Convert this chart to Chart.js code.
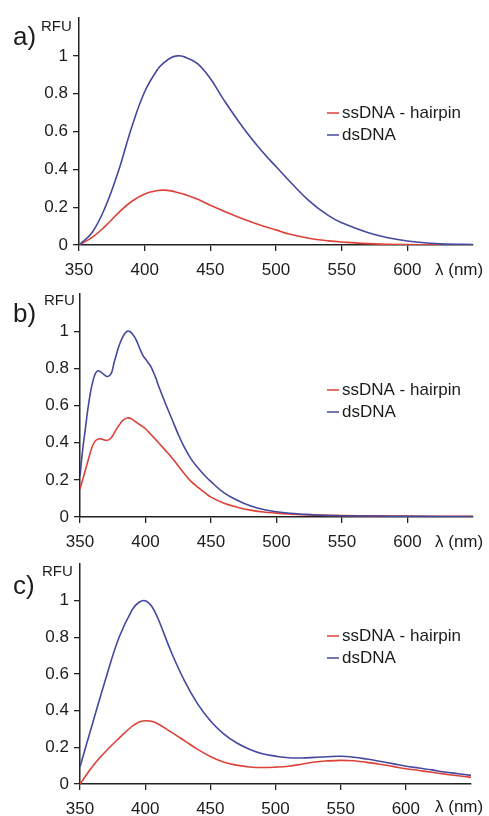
<!DOCTYPE html>
<html>
<head>
<meta charset="utf-8">
<script src="https://cdn.jsdelivr.net/npm/chart.js@4.4.1/dist/chart.umd.min.js"></script>
<style>
  body { margin: 0; background: #fff; overflow: hidden; }
  .page { position: relative; width: 489px; height: 816px; overflow: hidden; }
  canvas { position: absolute; left: 0; }
</style>
</head>
<body>
<div class="page">
  <canvas id="chartA" width="489" height="280" style="top:0px;z-index:3"></canvas>
  <canvas id="chartB" width="489" height="280" style="top:272px;z-index:2"></canvas>
  <canvas id="chartC" width="489" height="280" style="top:544px;z-index:1"></canvas>
</div>
<script>
// values (RFU vs wavelength in nm)
const seriesLabels = ['ssDNA - hairpin', 'dsDNA'];
const xTicks = [350, 400, 450, 500, 550, 600];
const yTicks = [0, 0.2, 0.4, 0.6, 0.8, 1];

// panel a
const wavelengthsA = [350, 360, 370, 380, 390, 400, 410, 415, 420, 425, 430, 440, 450, 460, 475, 490, 500, 510, 525, 540, 550, 575, 600, 625, 650];
const ssdnaA = [0, 0.04, 0.10, 0.17, 0.23, 0.27, 0.288, 0.29, 0.286, 0.278, 0.268, 0.243, 0.21, 0.18, 0.137, 0.10, 0.08, 0.058, 0.036, 0.022, 0.016, 0.006, 0.002, 0.001, 0];
const dsdnaA = [0, 0.066, 0.20, 0.39, 0.62, 0.81, 0.93, 0.965, 0.99, 1.0, 0.995, 0.96, 0.88, 0.77, 0.62, 0.49, 0.415, 0.34, 0.235, 0.155, 0.118, 0.055, 0.021, 0.006, 0.003];

// panel b
const wavelengthsB = [350, 352, 354, 356, 358, 360, 362, 364, 366, 368, 370, 372, 374, 376, 378, 380, 382, 384, 386, 388, 390, 392, 394, 396, 398, 400, 402, 404, 406, 408, 410, 415, 420, 425, 430, 435, 440, 445, 450, 460, 470, 480, 490, 500, 510, 520, 530, 550, 575, 600, 625, 650];
const ssdnaB = [0.15, 0.20, 0.25, 0.30, 0.35, 0.39, 0.412, 0.42, 0.42, 0.416, 0.413, 0.415, 0.428, 0.45, 0.475, 0.495, 0.515, 0.527, 0.533, 0.532, 0.525, 0.515, 0.505, 0.495, 0.485, 0.475, 0.46, 0.445, 0.43, 0.415, 0.40, 0.36, 0.32, 0.275, 0.23, 0.19, 0.16, 0.132, 0.107, 0.074, 0.053, 0.037, 0.027, 0.021, 0.016, 0.012, 0.01, 0.008, 0.006, 0.005, 0.004, 0.004];
const dsdnaB = [0.22, 0.36, 0.47, 0.58, 0.67, 0.735, 0.775, 0.787, 0.78, 0.768, 0.758, 0.758, 0.775, 0.83, 0.88, 0.925, 0.96, 0.985, 1.0, 0.998, 0.985, 0.965, 0.935, 0.90, 0.87, 0.85, 0.83, 0.81, 0.78, 0.745, 0.705, 0.615, 0.53, 0.445, 0.37, 0.31, 0.265, 0.225, 0.19, 0.13, 0.09, 0.06, 0.04, 0.028, 0.02, 0.015, 0.011, 0.007, 0.005, 0.004, 0.003, 0.003];

// panel c
const wavelengthsC = [350, 360, 370, 380, 390, 395, 400, 405, 410, 420, 430, 440, 450, 460, 470, 480, 490, 500, 510, 520, 530, 540, 550, 560, 570, 580, 590, 600, 610, 620, 630, 640, 650];
const ssdnaC = [0, 0.10, 0.18, 0.25, 0.315, 0.337, 0.345, 0.342, 0.327, 0.283, 0.237, 0.19, 0.15, 0.12, 0.103, 0.093, 0.09, 0.092, 0.097, 0.108, 0.12, 0.126, 0.129, 0.127, 0.118, 0.108, 0.096, 0.083, 0.074, 0.064, 0.054, 0.045, 0.036];
const dsdnaC = [0.093, 0.34, 0.58, 0.80, 0.95, 0.99, 1.0, 0.97, 0.90, 0.72, 0.565, 0.44, 0.345, 0.275, 0.225, 0.19, 0.165, 0.152, 0.143, 0.142, 0.145, 0.149, 0.151, 0.146, 0.136, 0.124, 0.111, 0.097, 0.087, 0.077, 0.065, 0.056, 0.047];

const RED = '#dd4239';
const BLUE = '#44489e';
const FONT = '"Liberation Sans", Arial, sans-serif';

// letters, RFU, unit and legend drawn on top of the plot
const panelText = {
  id: 'panelText',
  afterDraw(chart, args, opts) {
    const ctx = chart.ctx;
    ctx.save();
    ctx.fillStyle = '#1c1c1c';
    ctx.textBaseline = 'alphabetic';
    ctx.font = '26px ' + FONT;
    ctx.fillText(opts.letter, 13, opts.letterY);
    ctx.font = '15px ' + FONT;
    ctx.fillText('RFU', opts.rfuX, opts.rfuY);
    ctx.font = '17px ' + FONT;
    ctx.fillText('λ (nm)', 435, opts.unitY);
    ctx.textBaseline = 'middle';
    chart.data.datasets.forEach((ds, i) => {
      const y = opts.legendY + i * 22;
      ctx.strokeStyle = ds.borderColor;
      ctx.lineWidth = 1.5;
      ctx.beginPath();
      ctx.moveTo(327, y);
      ctx.lineTo(339, y);
      ctx.stroke();
      ctx.fillText(ds.label, 342, y);
    });
    ctx.restore();
  }
};

function makeChart(id, wl, ss, ds, box) {
  const ctx = document.getElementById(id).getContext('2d');
  return new Chart(ctx, {
    type: 'line',
    data: {
      datasets: [
        { label: seriesLabels[0], data: wl.map((x, i) => ({ x: x, y: ss[i] })), borderColor: RED, order: 2 },
        { label: seriesLabels[1], data: wl.map((x, i) => ({ x: x, y: ds[i] })), borderColor: BLUE, order: 1 }
      ]
    },
    options: {
      responsive: false,
      animation: false,
      layout: { padding: { left: 0, right: 489 - box.right, top: box.top, bottom: 0 } },
      elements: {
        point: { radius: 0 },
        line: { borderWidth: 1.6, tension: 0.4, fill: false }
      },
      plugins: {
        legend: { display: false },
        tooltip: { enabled: false },
        panelText: box
      },
      scales: {
        x: {
          type: 'linear',
          min: 350,
          max: 650,
          afterBuildTicks: s => { s.ticks = xTicks.map(v => ({ value: v })); },
          afterFit: s => { s.height = 280 - box.bottom; },
          grid: { drawOnChartArea: false, drawTicks: true, tickLength: 6, color: '#222', lineWidth: 1.3 },
          border: { display: true, color: '#222', width: 1.5 },
          ticks: { color: '#1c1c1c', font: { size: 17, family: FONT }, padding: 9, maxRotation: 0 }
        },
        y: {
          min: 0,
          max: 1.2,
          afterBuildTicks: s => { s.ticks = yTicks.map(v => ({ value: v })); },
          afterFit: s => { s.width = box.left; },
          grid: { drawOnChartArea: false, drawTicks: true, tickLength: 6, color: '#222', lineWidth: 1.3 },
          border: { display: true, color: '#222', width: 1.5 },
          ticks: { color: '#1c1c1c', font: { size: 17, family: FONT }, padding: 5, callback: v => String(v) }
        }
      }
    },
    plugins: [panelText]
  });
}

makeChart('chartA', wavelengthsA, ssdnaA, dsdnaA,
  { left: 79, right: 473, top: 18, bottom: 245, letter: 'a)', letterY: 45, rfuX: 41, rfuY: 31, unitY: 275, legendY: 113 });
makeChart('chartB', wavelengthsB, ssdnaB, dsdnaB,
  { left: 80, right: 473, top: 22, bottom: 245, letter: 'b)', letterY: 50, rfuX: 44, rfuY: 33, unitY: 275, legendY: 118 });
makeChart('chartC', wavelengthsC, ssdnaC, dsdnaC,
  { left: 80, right: 471, top: 20, bottom: 240, letter: 'c)', letterY: 50, rfuX: 42, rfuY: 32, unitY: 268, legendY: 92 });
</script>
</body>
</html>
